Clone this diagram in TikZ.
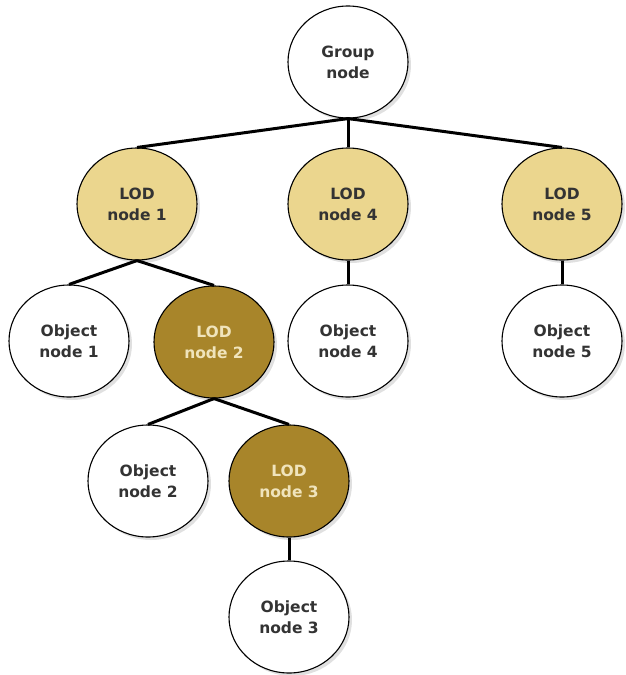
\documentclass[tikz,border=0pt]{standalone}
\usepackage{fontspec}
\setmainfont{DejaVu Sans}
\usetikzlibrary{shapes.geometric,shadows}
\definecolor{lighttan}{HTML}{EBD68E}
\definecolor{darkgold}{HTML}{A8852A}
\definecolor{txtgray}{HTML}{333333}
\definecolor{lighttxt}{HTML}{F0E4BC}
\begin{document}
\begin{tikzpicture}[x=1pt,y=-1pt,
  tnode/.style={ellipse, draw=black, line width=1.1pt, minimum width=120pt, minimum height=112pt,
    inner sep=0pt, align=center, font=\fontsize{15.5}{21}\selectfont\bfseries, text=txtgray,
    drop shadow={shadow xshift=3pt, shadow yshift=-3pt, fill=black!12, opacity=1}},
  objnode/.style={tnode, fill=white},
  lodlight/.style={tnode, fill=lighttan},
  loddark/.style={tnode, fill=darkgold, text=lighttxt},
  link/.style={line width=3pt, black}]
\useasboundingbox (0,0) rectangle (625,675);
\node[objnode] (g) at (348,62) {Group\\node};
\node[lodlight] (l1) at (137,204) {LOD\\node 1};
\node[lodlight] (l4) at (348,204) {LOD\\node 4};
\node[lodlight] (l5) at (562,204) {LOD\\node 5};
\node[objnode] (o1) at (69,341) {Object\\node 1};
\node[loddark] (l2) at (214,342) {LOD\\node 2};
\node[objnode] (o4) at (348,341) {Object\\node 4};
\node[objnode] (o5) at (562,341) {Object\\node 5};
\node[objnode] (o2) at (148,481) {Object\\node 2};
\node[loddark] (l3) at (289,481) {LOD\\node 3};
\node[objnode] (o3) at (289,617) {Object\\node 3};
\draw[link] (g.south) -- (l1.north);
\draw[link] (g.south) -- (l4.north);
\draw[link] (g.south) -- (l5.north);
\draw[link] (l1.south) -- (o1.north);
\draw[link] (l1.south) -- (l2.north);
\draw[link] (l4.south) -- (o4.north);
\draw[link] (l5.south) -- (o5.north);
\draw[link] (l2.south) -- (o2.north);
\draw[link] (l2.south) -- (l3.north);
\draw[link] (l3.south) -- (o3.north);
\end{tikzpicture}
\end{document}
